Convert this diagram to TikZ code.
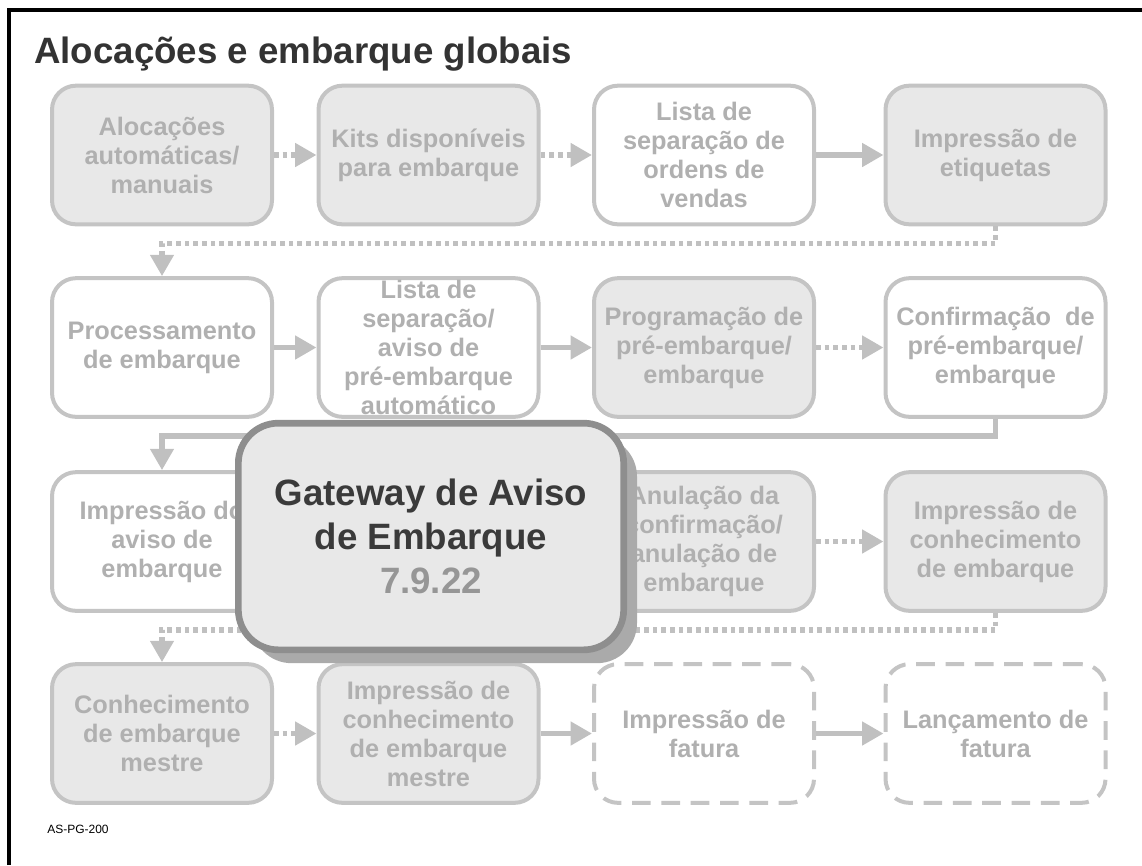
\documentclass[tikz,border=0pt]{standalone}
\usepackage{fontspec}
\setmainfont{Liberation Sans}
\usetikzlibrary{arrows.meta,shadows}
\definecolor{boxline}{RGB}{196,196,196}
\definecolor{boxfill}{RGB}{232,232,232}
\definecolor{boxtext}{RGB}{176,176,176}
\definecolor{titletext}{RGB}{51,51,51}
\definecolor{gwline}{RGB}{142,142,142}
\definecolor{gwshadow}{RGB}{170,170,170}
\definecolor{gwnum}{RGB}{150,150,150}
\definecolor{gwtext}{RGB}{58,58,58}
\definecolor{arrowgray}{RGB}{192,192,192}
\begin{document}
\begin{tikzpicture}[x=0.75pt,y=-0.75pt,
  procbox/.style={draw=boxline, line width=3pt, rounded corners=18pt,
    minimum width=165pt, minimum height=104pt, inner sep=0pt, align=center,
    text=boxtext, font=\fontsize{19}{21.75}\selectfont\bfseries},
  shadedbox/.style={procbox, fill=boxfill},
  plainbox/.style={procbox, fill=white},
  dashedbox/.style={procbox, fill=white, dash pattern=on 14pt off 8pt},
  flow/.style={draw=arrowgray, line width=4pt, -{Triangle[length=16pt,width=17pt]}},
  dotflow/.style={flow, dash pattern=on 3.5pt off 3pt},
  gateway/.style={draw=gwline, line width=5pt, fill=boxfill, rounded corners=30pt,
    minimum width=289pt, minimum height=170pt, inner sep=0pt, align=center,
    text=gwtext, font=\fontsize{27.5}{33}\selectfont\bfseries,
    general shadow={fill=gwshadow, shadow xshift=10pt, shadow yshift=-10pt}},
]
\useasboundingbox (0,0) rectangle (1142,865);
% frame
\draw[line width=3pt] (9,865) -- (9,10) -- (1142,10);
% title
\node[anchor=base west, inner sep=0pt, text=titletext,
  font=\fontsize{27.5}{33}\selectfont\bfseries] (title) at (34,63) {Alocações e embarque globais};

% row 1
\node[shadedbox] (b11) at (162,155)   {Alocações\\automáticas/\\manuais};
\node[shadedbox] (b12) at (428.5,155) {Kits disponíveis\\para embarque};
\node[plainbox]  (b13) at (704,155)   {Lista de\\separação de\\ordens de\\vendas};
\node[shadedbox] (b14) at (995.5,155) {Impressão de\\etiquetas};
% row 2
\node[plainbox]  (b21) at (162,347.5)   {Processamento\\de embarque};
\node[plainbox]  (b22) at (428.5,347.5) {Lista de\\separação/\\aviso de\\pré-embarque\\automático};
\node[shadedbox] (b23) at (704,347.5)   {Programação de\\pré-embarque/\\embarque};
\node[plainbox]  (b24) at (995.5,347.5) {Confirmação~ de\\pré-embarque/\\embarque};
% row 3
\node[plainbox]  (b31) at (162,541.5)   {Impressão do\\aviso de\\embarque};
\node[shadedbox] (b33) at (704,541.5)   {Anulação da\\confirmação/\\anulação de\\embarque};
\node[shadedbox] (b34) at (995.5,541.5) {Impressão de\\conhecimento\\de embarque};
% row 4
\node[shadedbox] (b41) at (162,733.5)   {Conhecimento\\de embarque\\mestre};
\node[shadedbox] (b42) at (428.5,733.5) {Impressão de\\conhecimento\\de embarque\\mestre};
\node[dashedbox] (b43) at (704,733.5)   {Impressão de\\fatura};
\node[dashedbox] (b44) at (995.5,733.5) {Lançamento de\\fatura};

% connectors row 1
\draw[dotflow] (b11) -- (b12);
\draw[dotflow] (b12) -- (b13);
\draw[flow] (b13) -- (b14);
\draw[dotflow] (b14.south) -- ++(0,17) -| (b21.north);
% row 2
\draw[flow] (b21) -- (b22);
\draw[flow] (b22) -- (b23);
\draw[dotflow] (b23) -- (b24);
\draw[flow] (b24.south) -- ++(0,17) -| (b31.north);
% row 3
\draw[dotflow] (b33) -- (b34);
\draw[dotflow] (b34.south) -- ++(0,17) -| (b41.north);
% row 4
\draw[dotflow] (b41) -- (b42);
\draw[flow] (b42) -- (b43);
\draw[flow] (b43) -- (b44);

% gateway box
\node[gateway] (gw) at (431,536.5) {Gateway de Aviso\\de Embarque\\{\color{gwnum}7.9.22}};

% code
\node[anchor=base west, inner sep=0pt, font=\fontsize{9}{10}\selectfont] (code) at (47,833) {AS-PG-200};
\end{tikzpicture}
\end{document}
